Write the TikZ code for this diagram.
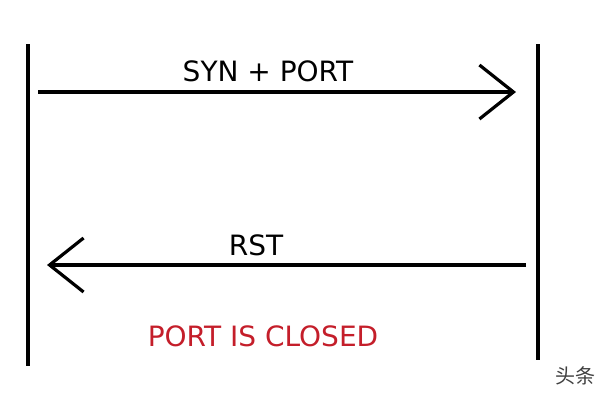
\documentclass[tikz,border=0pt]{standalone}
\usepackage{fontspec}
\setmainfont{DejaVu Sans}
\newfontfamily\cjk{Noto Sans CJK SC}
\usetikzlibrary{arrows.meta}
\definecolor{closedred}{RGB}{196,30,42}
\tikzset{
  lifeline/.style={line width=3.6pt},
  msg/.style={line width=3.2pt, -{Straight Barb[length=34pt,width=54pt,line width=3.2pt]}},
  msglabel/.style={font=\fontsize{28}{32}\selectfont, inner sep=0pt}
}
\begin{document}
\begin{tikzpicture}[x=1pt, y=-1pt]
      \useasboundingbox (0, 0) rectangle (600, 400);
      % the two hosts
      \coordinate (ltop) at (28, 44);
      \coordinate (lbot) at (28, 366);
      \coordinate (rtop) at (538, 44);
      \coordinate (rbot) at (538, 360);
      \draw [lifeline] (ltop) -- (lbot);
      \draw [lifeline] (rtop) -- (rbot);
      % messages
      \coordinate (synfrom) at (38, 92);
      \coordinate (synto) at (516, 92);
      \coordinate (rstfrom) at (526, 265);
      \coordinate (rstto) at (47, 265);
      \draw [msg] (synfrom) -- (synto);
      \draw [msg] (rstfrom) -- (rstto);
      \node [msglabel] (syn) at (268, 71) {SYN + PORT};
      \node [msglabel] (rst) at (256, 245) {RST};
      \node [msglabel, text=closedred] (closed) at (263, 336) {PORT IS CLOSED};
      \node [font=\cjk\fontsize{20}{24}\selectfont, text=black!75, inner sep=0pt] (mark) at (575, 376) {头条};
    \end{tikzpicture}
\end{document}
